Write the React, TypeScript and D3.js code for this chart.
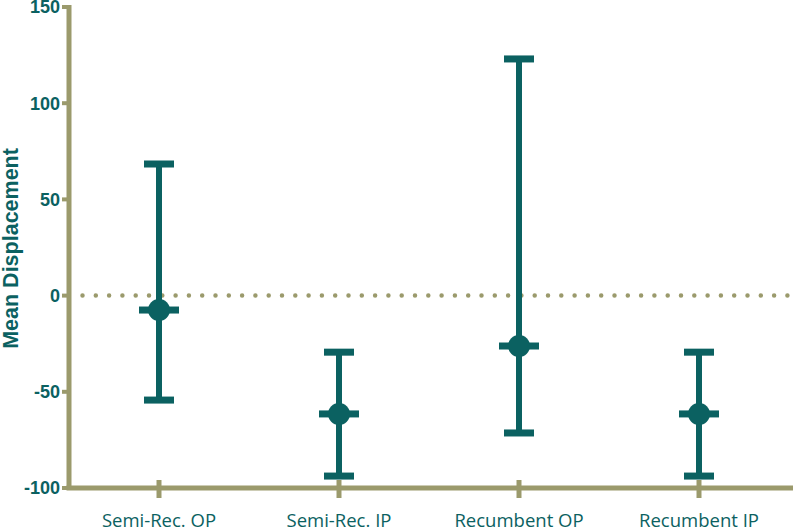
import React from "react";
import * as d3 from "d3";

const categories = ["Semi-Rec. OP", "Semi-Rec. IP", "Recumbent OP", "Recumbent IP"];
const means = [-7.5, -61.5, -26.2, -61.5];
const upper = [68.4, -29.4, 123, -29.4];
const lower = [-54.3, -93.8, -71.4, -93.8];
const yTicks = [-100, -50, 0, 50, 100, 150];

const W = 793;
const H = 530;
const teal = "#0b6161";
const axisColor = "#9b9a6c";

export default function App() {
  const x = d3.scalePoint<string>().domain(categories).range([69, 789]).padding(0.5);
  const y = d3.scaleLinear().domain([-100, 150]).range([488, 7]);

  return (
    <svg width={W} height={H} style={{ position: "absolute", left: 0, top: 0 }}>
      {/* zero reference line */}
      <line x1={82.5} x2={790} y1={y(0)} y2={y(0)} stroke={axisColor} strokeWidth={4.5}
        strokeLinecap="round" strokeDasharray="0 13.3" />

      {/* error bars */}
      {categories.map((c, i) => {
        const cx = x(c)!;
        return (
          <g key={c} fill={teal} stroke="none">
            <rect x={cx - 3} y={y(upper[i])} width={6} height={y(lower[i]) - y(upper[i])} />
            <rect x={cx - 15} y={y(upper[i]) - 3.5} width={30} height={7} />
            <rect x={cx - 15} y={y(lower[i]) - 3.5} width={30} height={7} />
            <rect x={cx - 20} y={y(means[i]) - 3.5} width={40} height={7} />
            <circle cx={cx} cy={y(means[i])} r={11} />
          </g>
        );
      })}

      {/* y axis */}
      <line x1={69} x2={69} y1={5} y2={490} stroke={axisColor} strokeWidth={5} />
      {yTicks.map((t) => (
        <g key={t}>
          <line x1={62} x2={69} y1={y(t)} y2={y(t)} stroke={axisColor} strokeWidth={4} />
          <text x={60} y={y(t)} dy="0.36em" textAnchor="end" fill={teal}
            fontFamily="Liberation Sans, Arial, sans-serif" fontWeight="bold" fontSize={18}>
            {t}
          </text>
        </g>
      ))}
      <text transform={`translate(18,${y(24.5)}) rotate(-90)`} textAnchor="middle" fill={teal}
        fontFamily="Liberation Sans, Arial, sans-serif" fontWeight="bold" fontSize={21.5}>
        Mean Displacement
      </text>

      {/* x axis */}
      <line x1={66.5} x2={793} y1={488} y2={488} stroke={axisColor} strokeWidth={5} />
      {categories.map((c) => (
        <g key={c}>
          <line x1={x(c)!} x2={x(c)!} y1={480} y2={498} stroke={axisColor} strokeWidth={5} />
          <text x={x(c)!} y={527} textAnchor="middle" fill={teal}
            fontFamily="Open Sans, sans-serif" fontSize={18.5}>
            {c}
          </text>
        </g>
      ))}
    </svg>
  );
}
